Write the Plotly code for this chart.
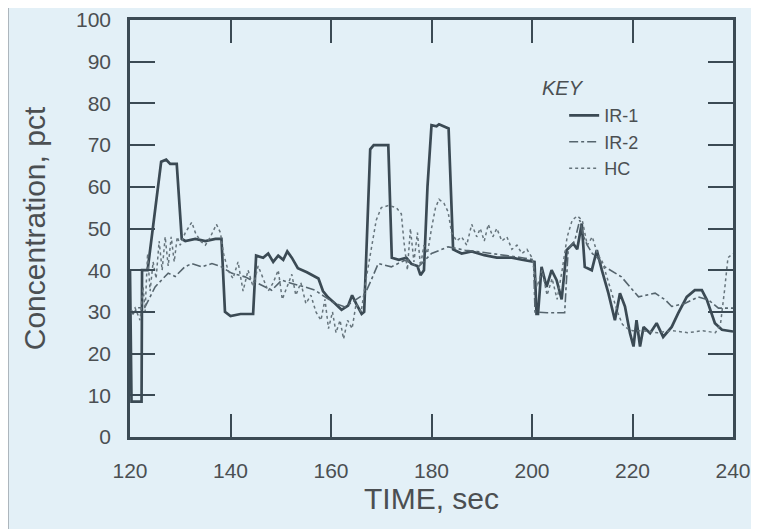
import plotly.graph_objects as go

# ---------------- data ----------------
ir1_t = [120, 120.3, 122.3, 122.4, 123.5, 126.2, 127.2, 128, 129.3, 130.3, 131, 133, 135, 137, 138.2,
         138.9, 140, 142, 144.5, 145.1, 146.5, 147.5, 148.5, 149.5, 150.5, 151.3, 152.2, 153.4, 155.2,
         156.8, 157.5, 158.4, 159.4, 160.8, 162.1, 163.4, 164.2, 165, 166.1, 166.6, 167.8, 168.5, 171.4,
         172.1, 173.5, 175, 176, 177.2, 177.8, 178.5, 179.2, 180, 181, 181.5, 183.4, 184.3, 186, 188,
         190.5, 193, 196, 198, 200.5, 200.9, 201.2, 201.9, 202.9, 203.9, 204.9, 205.9, 206.9, 208.2,
         209, 209.9, 210.5, 211.9, 212.9, 213.9, 215.2, 216.5, 217.5, 218.5, 219.5, 220.2, 220.8, 221.5,
         222.2, 223.5, 224.8, 226.1, 227.8, 229.1, 230.8, 232.4, 233.8, 234.8, 236.4, 237.8, 240]
ir1_v = [40, 8.5, 8.5, 40, 40, 66, 66.5, 65.5, 65.5, 47.5, 47, 47.5, 47, 47.5, 47.5,
         30, 29, 29.5, 29.5, 43.5, 43, 44, 42, 43.5, 42.5, 44.5, 43, 40.5, 39.5,
         38.5, 38, 35, 33.5, 32, 30.5, 31.5, 34, 32, 29.5, 30, 69, 70, 70,
         43, 42.5, 43, 41.5, 41, 38.8, 40, 60, 74.8, 74.5, 75, 74, 45, 44, 44.5,
         43.6, 43, 43, 42.5, 42, 29.5, 29.5, 40.8, 36, 40, 37.6, 33, 44.8, 46.4,
         45, 51.2, 40.8, 40, 44.8, 40, 34.5, 28, 34.5, 31.3, 24.9, 21.7, 28, 21.7,
         26.4, 24.9, 27.3, 24, 26.4, 29.7, 33.6, 35.2, 35.2, 32.9, 27.3, 25.7, 25.3]

ir2_t = [120, 120.6, 121.5, 122.5, 123, 125, 127.6, 129, 130.9, 132.3, 134.3, 136.3, 138.2, 140.2,
         142.9, 145.5, 148.2, 150.2, 152.2, 154.8, 156.8, 158.8, 160.8, 162.8, 164.8, 166.8, 168,
         169.4, 172, 174.7, 177.4, 180, 183.3, 186.7, 189, 192.6, 195, 198, 200.3, 200.6, 203, 206.5,
         207.2, 208.5, 209.5, 210.3, 211, 212, 213, 214.5, 217.8, 221.2, 224.5, 226.5, 227.8, 230.4,
         233.1, 235.1, 237.1, 240]
ir2_v = [30, 29.5, 31, 31, 31.2, 36, 39.3, 38.5, 40.8, 41.6, 40.8, 41.6, 40.8, 39.3,
         38.4, 36.8, 35.2, 37.6, 36.8, 36, 35.2, 33.6, 32, 31.2, 32.8, 34.4, 37.6,
         41.6, 40.8, 42.4, 40.8, 44, 45.6, 44.8, 44.5, 44, 43.5, 43, 42.5, 30, 29.8, 29.8,
         45, 47, 52, 48, 46, 44, 43, 40.8, 38.4, 33.6, 34.5, 32.9, 31.3, 32,
         33.6, 32.9, 30.9, 30.9]

hc_t = [120, 121, 122, 122.6, 123, 123.5, 124, 124.6, 125.2, 125.8, 126.4, 127, 127.6, 128.2, 128.8,
        129.4, 130, 131, 132.3, 133, 134, 135, 136, 137.2, 138, 138.6, 139.5, 140.5, 141.5, 142.5,
        143.5, 144.5, 145.5, 146.5, 147.5, 148.5, 149.5, 150.3, 151.2, 152.2, 153, 154, 155, 156,
        157, 158, 158.8, 159.5, 160.3, 161, 161.8, 162.5, 163.3, 164.2, 165, 166, 167, 168, 169,
        170, 171.4, 173, 174, 174.5, 175.2, 175.8, 176.5, 177.2, 177.8, 178.5, 179.2, 180, 180.8,
        181.5, 182.5, 183.3, 184, 185, 186, 187, 188, 189, 189.7, 190.5, 191.3, 192.2, 193, 194,
        195, 196, 197, 198, 199, 200, 201, 202, 203, 204, 205, 206, 207, 208, 209, 210, 211, 212,
        213, 214, 215, 216, 217, 218, 219, 220, 222, 225, 228, 231, 234, 236.5, 237.5, 238.3, 239, 240]
hc_v = [30, 31, 28, 36, 30, 44, 35, 42, 38, 47, 40, 48, 41, 48, 42,
        48, 46, 49, 51.5, 49, 47, 46, 48, 51, 49, 44, 40, 38, 42, 35,
        40, 36, 41, 38, 35, 37, 40, 33, 36, 39, 34, 37, 32, 34,
        30, 28, 33, 26, 30, 25, 28, 23.5, 28, 26, 32, 30, 38, 45, 52,
        55, 55.5, 55, 53.5, 47, 40, 50, 42, 49, 41, 46, 44, 50, 55,
        57, 56, 54, 49, 47, 48, 46, 51, 48, 50, 47, 51, 48, 50, 47,
        48, 45, 46, 44, 45, 43, 36, 40, 34, 38, 33, 40, 48, 52, 53, 52, 46, 48,
        44, 42, 38, 34, 30, 27, 26, 25.5, 25.5, 25, 25.5, 25, 25.5, 25, 27, 35, 43, 44]

series_names = ["IR-1", "IR-2", "HC"]
x_ticks = [120, 140, 160, 180, 200, 220, 240]
y_ticks = [0, 10, 20, 30, 40, 50, 60, 70, 80, 90, 100]

# ---------------- figure ----------------
FONT = "Liberation Sans, Arial, Helvetica, sans-serif"
TXT = "#4b4f52"
LINE = "#3b4a54"
BG = "#e3f0f7"
FRAME = "#a9b2b9"

fig = go.Figure()
fig.add_trace(go.Scatter(x=ir1_t, y=ir1_v, mode="lines", name=series_names[0],
                         line=dict(color=LINE, width=2.7)))
fig.add_trace(go.Scatter(x=ir2_t, y=ir2_v, mode="lines", name=series_names[1],
                         line=dict(color="#56656e", width=1.6, dash="dashdot")))
fig.add_trace(go.Scatter(x=hc_t, y=hc_v, mode="lines", name=series_names[2],
                         line=dict(color="#66747c", width=1.5, dash="dot")))

axis_common = dict(
    showgrid=False, zeroline=False, showline=True, linecolor=LINE, linewidth=2.5,
    mirror="ticks", ticks="inside", tickcolor=LINE, tickwidth=1.8,
    tickfont=dict(family=FONT, size=21, color=TXT), automargin=False,
)

fig.update_xaxes(range=[120, 240], tickvals=x_ticks, ticklen=23,
                 ticklabelstandoff=13,
                 title=dict(text="TIME, sec", font=dict(family=FONT, size=30, color=TXT), standoff=2),
                 **axis_common)
fig.update_yaxes(range=[0, 100], tickvals=y_ticks, ticklen=25,
                 ticklabelstandoff=12,
                 title=dict(text="Concentration, pct", font=dict(family=FONT, size=30, color=TXT), standoff=22),
                 **axis_common)

fig.update_layout(
    width=751, height=521,
    margin=dict(l=122, r=26, t=12, b=92),
    paper_bgcolor=BG, plot_bgcolor=BG,
    showlegend=True,
    legend=dict(
        x=0.72, y=0.815, xanchor="left", yanchor="top",
        bgcolor="rgba(0,0,0,0)", borderwidth=0,
        font=dict(family=FONT, size=18, color=TXT),
        tracegroupgap=0, itemwidth=30,
    ),
    annotations=[
        dict(text="<i>KEY</i>", xref="paper", yref="paper", x=0.680, y=0.837,
             xanchor="left", yanchor="middle", showarrow=False,
             font=dict(family=FONT, size=20, color=TXT)),
    ],
    shapes=[
        # thin outer frame of the original figure (left and top edges)
        dict(type="line", xref="paper", yref="paper", x0=-0.202, x1=1.05, y0=1.036, y1=1.036,
             line=dict(color=FRAME, width=1.5)),
        dict(type="line", xref="paper", yref="paper", x0=-0.202, x1=-0.202, y0=-0.25, y1=1.036,
             line=dict(color=FRAME, width=1.5)),
    ],
)

fig.write_html("out.html")
